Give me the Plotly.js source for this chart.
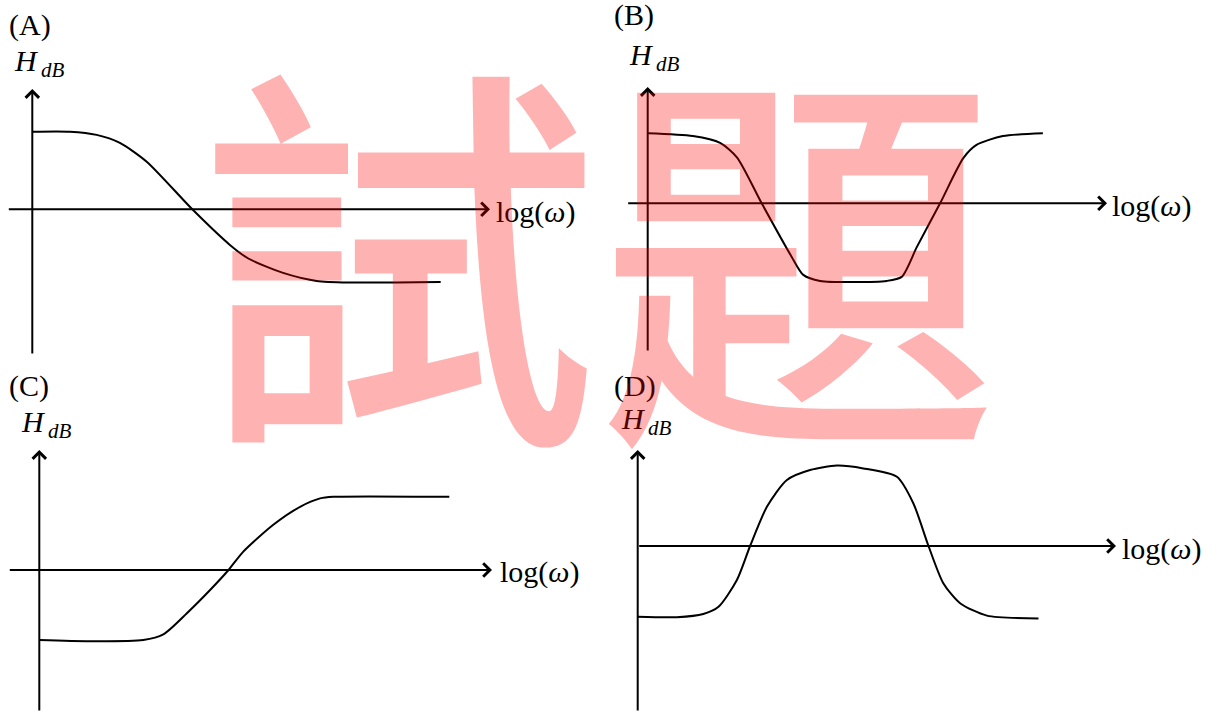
<!DOCTYPE html>
<html>
<head>
<meta charset="utf-8">
<script src="https://cdn.plot.ly/plotly-3.0.1.min.js"></script>
<style>
  html, body { margin: 0; padding: 0; background: #ffffff; }
  #chart { width: 1219px; height: 712px; }
</style>
</head>
<body>
<div id="chart"></div>
<script>
// Magnitude responses: x = log(omega) (arbitrary units), y = H in dB

// (A) low-pass
const logwA = [0, 0.94, 1.61, 2.19, 2.86, 4.0, 4.94, 5.4, 6.27, 7.11, 7.94, 10.21];
const hdbA  = [19.4, 19.4, 18.6, 16.6, 11.9, 0, -8.9, -12.3, -15.9, -17.9, -18.3, -18.2];

// (B) band-stop
const logwB = [0, 1.13, 1.81, 2.23, 2.85, 3.6, 3.89, 4.31, 5.98, 6.35, 6.73, 7.31, 7.89, 8.22, 8.88, 9.88];
const hdbB  = [17.5, 16.8, 15.1, 11.5, 0, -13.4, -17.9, -19.4, -19.4, -18.4, -10.9, 0, 11.3, 14.6, 16.8, 17.5];

// (C) high-pass
const logwC = [0, 1.27, 2.6, 3.1, 3.69, 4.27, 4.73, 5.1, 5.85, 6.52, 7.02, 7.35, 10.25];
const hdbC  = [-17.5, -17.8, -17.5, -16.1, -10.8, -5, 0, 4.6, 11.3, 15.8, 17.9, 18.3, 18.3];

// (D) band-pass
const logwD = [0, 0.98, 1.64, 2.02, 2.48, 2.81, 3.23, 3.73, 4.31, 4.98, 5.64, 6.48, 6.89, 7.27, 7.64, 8.06, 8.73, 10.02];
const hdbD  = [-17.7, -17.8, -17.0, -15.2, -8.5, 0, 9.8, 16.5, 19.0, 20.1, 19.4, 17.3, 10.7, 0, -9.3, -14.3, -17.4, -18.1];

const panelLabels = ['(A)', '(B)', '(C)', '(D)'];
const xAxisLabel = 'log(<i>ω</i>)';
const yAxisLabel = '<i>H</i><sub><i>\u2009dB</i></sub>';
const watermarkText = '試題';

// ---- page geometry (pixels) ----
const W = 1219, H = 712;
const PX_PER_X = 40;   // pixels per log(omega) unit
const PX_PER_DB = 4;   // pixels per dB

// each panel: origin of its axes, axis extents, quadrant and text positions
const panels = [
  { ox: 32.3,  oy: 209.3, xStart: 7.3,   xTip: 490,  yBot: 355, yTip: 89,
    L: 0, R: 609.5, T: 0, B: 356, tag: [7, 25], ylab: [12, 63], xlab: [494, 212] },
  { ox: 647.7, oy: 203.3, xStart: 626.7, xTip: 1107, yBot: 352, yTip: 87,
    L: 609.5, R: 1219, T: 0, B: 356, tag: [612, 15], ylab: [627, 57], xlab: [1110, 206] },
  { ox: 39.3,  oy: 570,   xStart: 8.3,   xTip: 492,  yBot: 712, yTip: 450,
    L: 0, R: 609.5, T: 356, B: 712, tag: [7, 386], ylab: [19, 424], xlab: [498, 572] },
  { ox: 637.7, oy: 546,   xStart: 637.7, xTip: 1116, yBot: 712, yTip: 450,
    L: 609.5, R: 1219, T: 356, B: 712, tag: [612, 386], ylab: [619, 421], xlab: [1120, 549] }
];

const series = [[logwA, hdbA], [logwB, hdbB], [logwC, hdbC], [logwD, hdbD]];

const serif = 'Liberation Serif, Times New Roman, serif';
const layout = {
  width: W, height: H,
  margin: { l: 0, r: 0, t: 0, b: 0 },
  paper_bgcolor: '#ffffff',
  plot_bgcolor: 'rgba(0,0,0,0)',
  showlegend: false,
  annotations: []
};

const traces = [];
const hidden = { showgrid: false, zeroline: false, showline: false, showticklabels: false, ticks: '', fixedrange: true };

panels.forEach((p, i) => {
  const n = i === 0 ? '' : String(i + 1);
  const xr = [(p.L - p.ox) / PX_PER_X, (p.R - p.ox) / PX_PER_X];
  const yr = [(p.oy - p.B) / PX_PER_DB, (p.oy - p.T) / PX_PER_DB];
  layout['xaxis' + n] = Object.assign({ domain: [p.L / W, p.R / W], range: xr, anchor: 'y' + n }, hidden);
  layout['yaxis' + n] = Object.assign({ domain: [1 - p.B / H, 1 - p.T / H], range: yr, anchor: 'x' + n }, hidden);

  const xData = px => (px - p.ox) / PX_PER_X;
  const yData = py => (p.oy - py) / PX_PER_DB;

  traces.push({
    type: 'scatter', mode: 'lines',
    x: series[i][0], y: series[i][1],
    xaxis: 'x' + n, yaxis: 'y' + n,
    line: { color: '#000000', width: 2, shape: 'spline', smoothing: 0.7 },
    hoverinfo: 'skip'
  });

  const arrow = {
    xref: 'x' + n, yref: 'y' + n, axref: 'x' + n, ayref: 'y' + n,
    text: '', showarrow: true, arrowhead: 4, arrowsize: 1.3, arrowwidth: 2,
    arrowcolor: '#000000', standoff: 0, startstandoff: 0
  };
  // log(omega) axis
  layout.annotations.push(Object.assign({}, arrow, { x: xData(p.xTip), y: 0, ax: xData(p.xStart), ay: 0 }));
  // H_dB axis
  layout.annotations.push(Object.assign({}, arrow, { x: 0, y: yData(p.yTip), ax: 0, ay: yData(p.yBot) }));

  const txt = (s, pos, extra) => Object.assign({
    xref: 'paper', yref: 'paper', x: pos[0] / W, y: 1 - pos[1] / H,
    xanchor: 'left', yanchor: 'middle', showarrow: false, text: s,
    font: { family: serif, size: 30, color: '#000000' }
  }, extra || {});
  layout.annotations.push(txt(panelLabels[i], p.tag));
  layout.annotations.push(txt(yAxisLabel, p.ylab));
  layout.annotations.push(txt(xAxisLabel, p.xlab));
});

// translucent stamp across the whole sheet, drawn last so it sits on top
layout.annotations.push({
  xref: 'paper', yref: 'paper', x: 598 / W, y: 1 - 240 / H,
  xanchor: 'center', yanchor: 'middle', showarrow: false,
  text: watermarkText,
  font: { family: 'Noto Sans CJK TC, Noto Sans CJK SC, sans-serif', size: 400, weight: 500, color: 'rgba(255,0,0,0.3)' }
});

Plotly.newPlot('chart', traces, layout, { displayModeBar: false, staticPlot: true });
</script>
</body>
</html>
